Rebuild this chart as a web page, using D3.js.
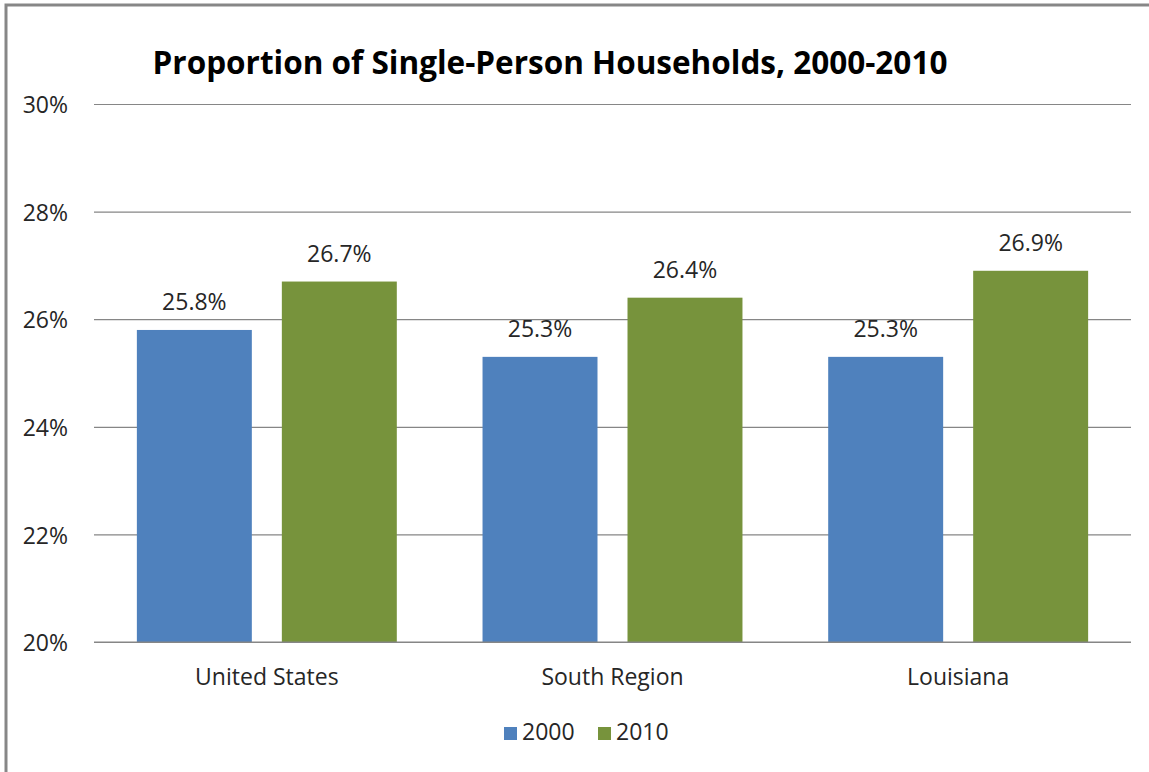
<!DOCTYPE html>
<html>
<head>
<meta charset="utf-8">
<script src="https://cdn.jsdelivr.net/npm/d3@7"></script>
<style>
  html, body { margin: 0; padding: 0; background: #fff; }
  svg { display: block; font-family: "Open Sans", "Noto Sans", sans-serif; }
</style>
</head>
<body>
<svg id="chart" width="1149" height="772"></svg>
<script>
// ── Data ──────────────────────────────────────────────────────────────────────
const regions    = ["United States", "South Region", "Louisiana"];
const years      = ["2000", "2010"];
const share2000  = [25.8, 25.3, 25.3];
const share2010  = [26.7, 26.4, 26.9];
const yTicks     = [20, 22, 24, 26, 28, 30];
const titleText  = "Proportion of Single-Person Households, 2000-2010";

// ── Layout ────────────────────────────────────────────────────────────────────
const W = 1149, H = 772;
const plot = { left: 94, right: 1131, top: 104, bottom: 642 };
const COLORS = { "2000": "#4f81bd", "2010": "#77933c" };
const TEXT = "#262626";
const GRID = "#868686";
const FONT_SIZE = "23px";

const svg = d3.select("#chart");

// outer frame (runs off the right and bottom edges)
svg.append("rect")
  .attr("x", 6).attr("y", 5)
  .attr("width", W + 10).attr("height", H + 10)
  .attr("fill", "#fff")
  .attr("stroke", "#878787")
  .attr("stroke-width", 3);

const x0 = d3.scaleBand()
  .domain(regions)
  .range([plot.left, plot.right])
  .paddingInner(0.248)
  .paddingOuter(0.124);

const x1 = d3.scaleBand()
  .domain(years)
  .range([0, x0.bandwidth()])
  .paddingInner(0.207);

const y = d3.scaleLinear()
  .domain([20, 30])
  .range([plot.bottom, plot.top]);

// ── Gridlines + y labels ──────────────────────────────────────────────────────
const yAxis = d3.axisLeft(y)
  .tickValues(yTicks)
  .tickSize(-(plot.right - plot.left))
  .tickPadding(26)
  .tickFormat(d => d + "%");

const yg = svg.append("g")
  .attr("transform", `translate(${plot.left},0)`)
  .call(yAxis);
yg.select(".domain").remove();
yg.selectAll(".tick line").attr("stroke", GRID).attr("stroke-width", 1.2);
yg.selectAll(".tick text")
  .attr("fill", TEXT)
  .attr("font-size", FONT_SIZE)
  .attr("font-family", "'Open Sans', sans-serif")
  .attr("dy", "0.38em");

// ── Bars ──────────────────────────────────────────────────────────────────────
const rows = regions.map((r, i) => ({
  region: r,
  values: [
    { year: "2000", value: share2000[i] },
    { year: "2010", value: share2010[i] }
  ]
}));

const groups = svg.append("g").selectAll("g")
  .data(rows)
  .join("g")
  .attr("transform", d => `translate(${x0(d.region)},0)`);

groups.selectAll("rect")
  .data(d => d.values)
  .join("rect")
  .attr("x", d => x1(d.year))
  .attr("y", d => y(d.value))
  .attr("width", x1.bandwidth())
  .attr("height", d => y(20) - y(d.value))
  .attr("fill", d => COLORS[d.year]);

groups.selectAll("text")
  .data(d => d.values)
  .join("text")
  .attr("x", d => x1(d.year) + x1.bandwidth() / 2)
  .attr("y", d => y(d.value) - 20)
  .attr("text-anchor", "middle")
  .attr("font-size", FONT_SIZE)
  .attr("fill", TEXT)
  .text(d => d.value.toFixed(1) + "%");

// baseline redrawn on top of the bars
svg.append("line")
  .attr("x1", plot.left).attr("x2", plot.right)
  .attr("y1", y(20)).attr("y2", y(20))
  .attr("stroke", GRID).attr("stroke-width", 1.2);

// ── Category axis ─────────────────────────────────────────────────────────────
const xg = svg.append("g")
  .attr("transform", `translate(0,${plot.bottom})`)
  .call(d3.axisBottom(x0).tickSize(0).tickPadding(0));
xg.select(".domain").remove();
xg.selectAll(".tick text")
  .attr("y", 43)
  .attr("dy", null)
  .attr("fill", TEXT)
  .attr("font-size", FONT_SIZE)
  .attr("font-family", "'Open Sans', sans-serif");

// ── Title ─────────────────────────────────────────────────────────────────────
svg.append("text")
  .attr("x", 550).attr("y", 74)
  .attr("text-anchor", "middle")
  .attr("font-size", "31.5px")
  .attr("font-weight", "bold")
  .attr("fill", "#000")
  .text(titleText);

// ── Legend ────────────────────────────────────────────────────────────────────
const legend = svg.append("g").attr("transform", "translate(504,740)");
const legendX = [0, 94];
years.forEach((yr, i) => {
  const lg = legend.append("g").attr("transform", `translate(${legendX[i]},0)`);
  lg.append("rect")
    .attr("x", 0).attr("y", -13)
    .attr("width", 13).attr("height", 13)
    .attr("fill", COLORS[yr]);
  lg.append("text")
    .attr("x", 18).attr("y", 0)
    .attr("font-size", FONT_SIZE)
    .attr("fill", TEXT)
    .text(yr);
});
</script>
</body>
</html>
